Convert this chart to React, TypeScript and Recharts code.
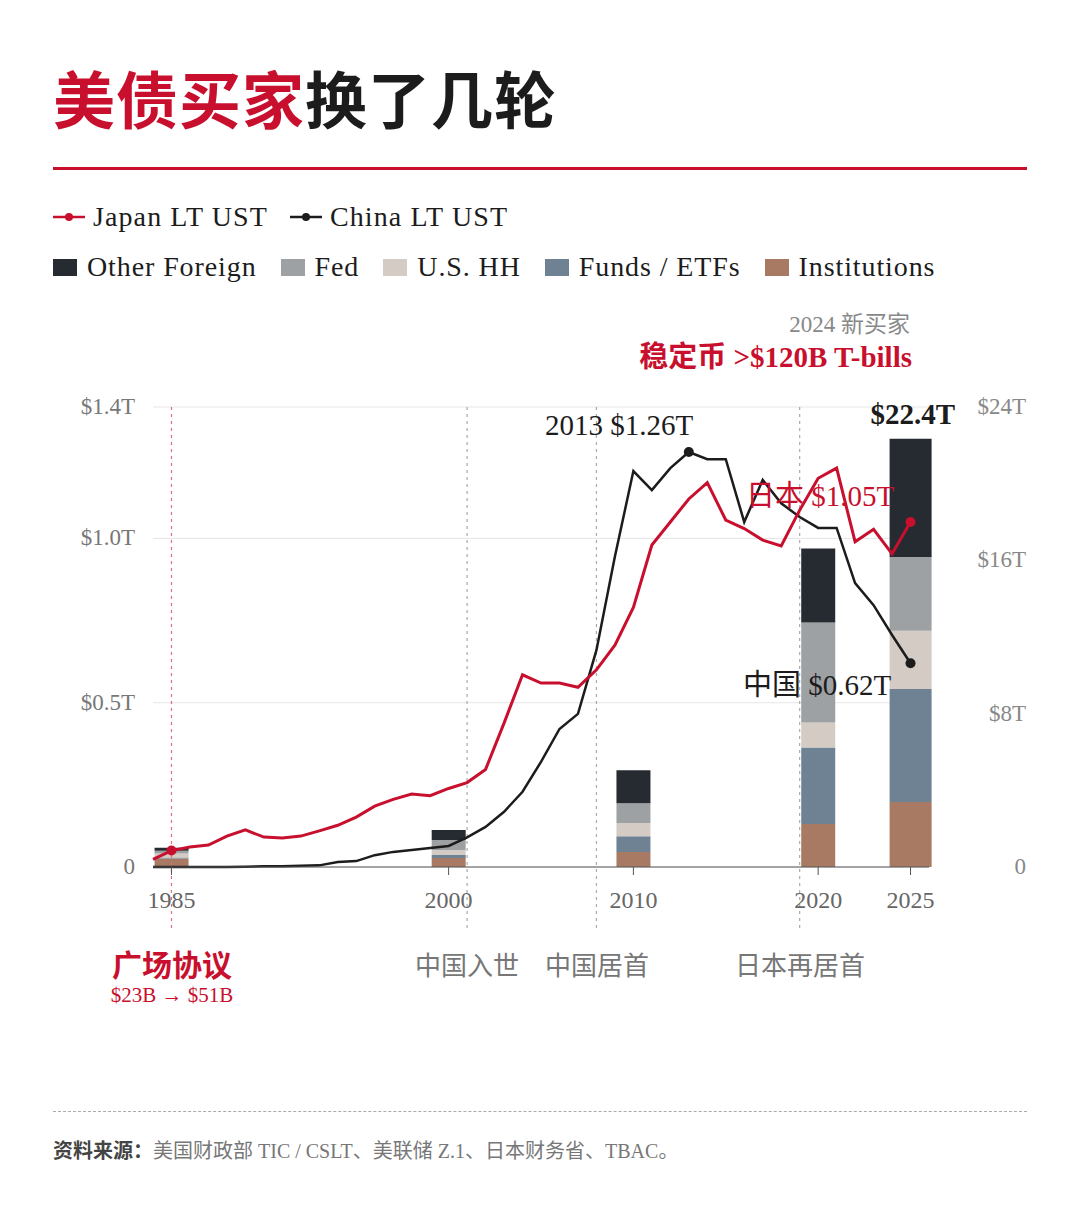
import React from 'react';
import {
  ComposedChart,
  Bar,
  Line,
  XAxis,
  YAxis,
  CartesianGrid,
  ReferenceLine,
  Rectangle,
} from 'recharts';

const RED = '#c8102e';
const INK = '#1c1c1c';
const SERIF = '"Liberation Serif", "DejaVu Serif", "Noto Sans CJK SC", serif';
const CJK = '"Noto Sans CJK SC", "Liberation Serif", serif';

// yearly long-term UST holdings, $T
const years = [
  1984, 1985, 1986, 1987, 1988, 1989, 1990, 1991, 1992, 1993, 1994, 1995, 1996, 1997,
  1998, 1999, 2000, 2001, 2002, 2003, 2004, 2005, 2006, 2007, 2008, 2009, 2010, 2011,
  2012, 2013, 2014, 2015, 2016, 2017, 2018, 2019, 2020, 2021, 2022, 2023, 2024, 2025,
];
const japanLT = [
  0.023, 0.05, 0.061, 0.067, 0.094, 0.113, 0.091, 0.088, 0.094, 0.11, 0.127, 0.152, 0.185, 0.206,
  0.222, 0.217, 0.239, 0.257, 0.297, 0.438, 0.585, 0.56, 0.56, 0.547, 0.6, 0.675, 0.79, 0.98,
  1.05, 1.12, 1.17, 1.056, 1.03, 0.995, 0.977, 1.086, 1.183, 1.214, 0.99, 1.028, 0.953, 1.05,
];
const chinaLT = [
  0, 0, 0, 0, 0, 0.001, 0.002, 0.002, 0.004, 0.005, 0.015, 0.018, 0.036, 0.046,
  0.052, 0.058, 0.064, 0.09, 0.122, 0.168, 0.229, 0.32, 0.42, 0.466, 0.66, 0.945, 1.205, 1.147,
  1.214, 1.263, 1.241, 1.241, 1.05, 1.178, 1.107, 1.065, 1.032, 1.032, 0.864, 0.797, 0.706, 0.62,
];

// holder mix snapshots, $T
const barYears = [1985, 2000, 2010, 2020, 2025];
const institutions = [0.45, 0.47, 0.78, 2.24, 3.39];
const funds = [0.05, 0.16, 0.83, 4.0, 5.9];
const households = [0.2, 0.26, 0.68, 1.3, 3.03];
const fed = [0.15, 0.52, 1.04, 5.22, 3.86];
const otherForeign = [0.15, 0.52, 1.72, 3.86, 6.16];

const leftTicks = [0, 0.5, 1.0, 1.4];
const leftLabels = ['0', '$0.5T', '$1.0T', '$1.4T'];
const rightTicks = [0, 8, 16, 24];
const rightLabels = ['0', '$8T', '$16T', '$24T'];
const xTicks = [1985, 2000, 2010, 2020, 2025];
const markerYears = [1985, 2001, 2008, 2019];

const data = years.map((year, i) => {
  const b = barYears.indexOf(year);
  return {
    year,
    japan: japanLT[i],
    china: chinaLT[i],
    inst: b >= 0 ? institutions[b] : undefined,
    funds: b >= 0 ? funds[b] : undefined,
    hh: b >= 0 ? households[b] : undefined,
    fed: b >= 0 ? fed[b] : undefined,
    other: b >= 0 ? otherForeign[b] : undefined,
  };
});

const segments = [
  { key: 'inst', name: 'Institutions', color: '#a87a63' },
  { key: 'funds', name: 'Funds / ETFs', color: '#6f8294' },
  { key: 'hh', name: 'U.S. HH', color: '#d3cbc4' },
  { key: 'fed', name: 'Fed', color: '#9ea1a4' },
  { key: 'other', name: 'Other Foreign', color: '#262a31' },
];

const BarShape = (props: any) => {
  const { x, y, width, height, fill, payload } = props;
  if (!height) return null;
  const w = payload.year === 2025 ? 42 : 34;
  return <Rectangle x={x + width / 2 - w / 2} y={y} width={w} height={height} fill={fill} />;
};

const makeDot = (color: string, show: number[]) => (p: any) => {
  if (!show.includes(p.payload.year)) return <g key={p.index} />;
  return <circle key={p.index} cx={p.cx} cy={p.cy} r={5} fill={color} />;
};

const MarkerLine = (props: any) => {
  const { x1, y1, y2, stroke } = props;
  const top = Math.min(y1, y2);
  const bottom = Math.max(y1, y2);
  return <line x1={x1} x2={x1} y1={top} y2={bottom + 65} stroke={stroke} strokeDasharray="3 4" strokeWidth={1.2} />;
};

const LeftTick = (props: any) => {
  const { x, y, payload } = props;
  const i = leftTicks.indexOf(payload.value);
  return (
    <text x={x} y={y} dy={7} textAnchor="end" fill="#777" fontSize={23} fontFamily={SERIF}>
      {leftLabels[i]}
    </text>
  );
};

const RightTick = (props: any) => {
  const { x, y, payload } = props;
  const i = rightTicks.indexOf(payload.value);
  return (
    <text x={x + 79} y={y} dy={7} textAnchor="end" fill="#888" fontSize={23} fontFamily={SERIF}>
      {rightLabels[i]}
    </text>
  );
};

const abs = (left: number, top: number, extra: React.CSSProperties = {}): React.CSSProperties => ({
  position: 'absolute',
  left,
  top,
  whiteSpace: 'nowrap',
  lineHeight: 1,
  ...extra,
});

const LegendSwatch = ({ color }: { color: string }) => (
  <span style={{ display: 'inline-block', width: 24, height: 17, background: color, marginRight: 10 }} />
);

const LegendLine = ({ color }: { color: string }) => (
  <svg width={32} height={10} style={{ marginRight: 8 }}>
    <line x1={0} x2={32} y1={5} y2={5} stroke={color} strokeWidth={2.5} />
    <circle cx={16} cy={5} r={4} fill={color} />
  </svg>
);

export default function App() {
  return (
    <div style={{ position: 'absolute', left: 0, top: 0, width: 1080, height: 1216, background: '#fff', fontFamily: SERIF, overflow: 'hidden' }}>
      <div style={abs(53, 66, { fontSize: 62, fontWeight: 700, fontFamily: CJK, letterSpacing: 1 })}>
        <span style={{ color: RED }}>美债买家</span>
        <span style={{ color: INK }}>换了几轮</span>
      </div>
      <div style={{ position: 'absolute', left: 53, top: 167, width: 974, height: 3, background: RED }} />

      <div style={abs(53, 203, { fontSize: 28, letterSpacing: 1.1, color: INK, display: 'flex', alignItems: 'center' })}>
        <LegendLine color={RED} />
        <span style={{ marginRight: 22 }}>Japan LT UST</span>
        <LegendLine color={INK} />
        <span>China LT UST</span>
      </div>
      <div style={abs(53, 253, { fontSize: 28, letterSpacing: 0.9, color: INK, display: 'flex', alignItems: 'center' })}>
        {[...segments].reverse().map((s) => (
          <span key={s.key} style={{ display: 'flex', alignItems: 'center', marginRight: 24 }}>
            <LegendSwatch color={s.color} />
            {s.name}
          </span>
        ))}
      </div>

      <div style={{ position: 'absolute', left: 0, top: 0 }}>
        <ComposedChart width={1080} height={990} data={data} margin={{ top: 407, right: 0, bottom: 93, left: 0 }}>
          <CartesianGrid vertical={false} stroke="#e6e6e6" yAxisId="left" />
          <XAxis
            dataKey="year"
            type="number"
            domain={[1984, 2026]}
            ticks={xTicks}
            interval={0}
            stroke="#555"
            tickSize={8}
            tickMargin={16}
            tick={{ fill: '#666', fontSize: 24, fontFamily: SERIF }}
          />
          <YAxis
            yAxisId="left"
            width={153}
            domain={[0, 1.4]}
            ticks={leftTicks}
            axisLine={false}
            tickLine={false}
            tickMargin={12}
            tick={<LeftTick />}
          />
          <YAxis
            yAxisId="right"
            orientation="right"
            width={151}
            domain={[0, 24]}
            ticks={rightTicks}
            axisLine={false}
            tickLine={false}
            tickMargin={12}
            tick={<RightTick />}
          />
          {markerYears.map((yr) => (
            <ReferenceLine
              key={yr}
              x={yr}
              yAxisId="left"
              stroke={yr === 1985 ? '#e07080' : '#aaa'}
              shape={<MarkerLine />}
            />
          ))}
          {segments.map((s) => (
            <Bar
              key={s.key}
              dataKey={s.key}
              yAxisId="right"
              stackId="mix"
              fill={s.color}
              barSize={34}
              shape={<BarShape />}
              isAnimationActive={false}
            />
          ))}
          <Line
            dataKey="china"
            yAxisId="left"
            stroke={INK}
            strokeWidth={2.5}
            dot={makeDot(INK, [2013, 2025])}
            activeDot={false}
            type="linear"
            isAnimationActive={false}
          />
          <Line
            dataKey="japan"
            yAxisId="left"
            stroke={RED}
            strokeWidth={3}
            dot={makeDot(RED, [1985, 2025])}
            activeDot={false}
            type="linear"
            isAnimationActive={false}
          />
        </ComposedChart>
      </div>

      <div style={abs(0, 313, { width: 910, textAlign: 'right', fontSize: 23, color: '#888' })}>2024 新买家</div>
      <div style={abs(0, 343, { width: 912, textAlign: 'right', fontSize: 29, color: RED, fontWeight: 700 })}>稳定币 &gt;$120B T-bills</div>
      <div style={abs(545, 411, { fontSize: 29, color: INK })}>2013 $1.26T</div>
      <div style={abs(0, 400, { width: 955, textAlign: 'right', fontSize: 29, color: INK, fontWeight: 700 })}>$22.4T</div>
      <div style={abs(746, 482, { fontSize: 29, color: RED })}>日本 $1.05T</div>
      <div style={abs(743, 671, { fontSize: 29, color: INK })}>中国 $0.62T</div>

      <div style={abs(72, 948, { width: 200, textAlign: 'center', fontSize: 30, color: RED, fontWeight: 700, fontFamily: CJK })}>广场协议</div>
      <div style={abs(72, 985, { width: 200, textAlign: 'center', fontSize: 21, color: RED })}>$23B → $51B</div>
      <div style={abs(367, 951, { width: 200, textAlign: 'center', fontSize: 26, color: '#777', fontFamily: CJK })}>中国入世</div>
      <div style={abs(497, 951, { width: 200, textAlign: 'center', fontSize: 26, color: '#777', fontFamily: CJK })}>中国居首</div>
      <div style={abs(700, 951, { width: 200, textAlign: 'center', fontSize: 26, color: '#777', fontFamily: CJK })}>日本再居首</div>

      <div style={{ position: 'absolute', left: 53, top: 1111, width: 974, borderTop: '1px dashed #aaa' }} />
      <div style={abs(53, 1140, { fontSize: 20, color: '#777' })}>
        <span style={{ color: '#444', fontWeight: 700, fontFamily: CJK }}>资料来源：</span>
        美国财政部 TIC / CSLT、美联储 Z.1、日本财务省、TBAC。
      </div>
    </div>
  );
}
